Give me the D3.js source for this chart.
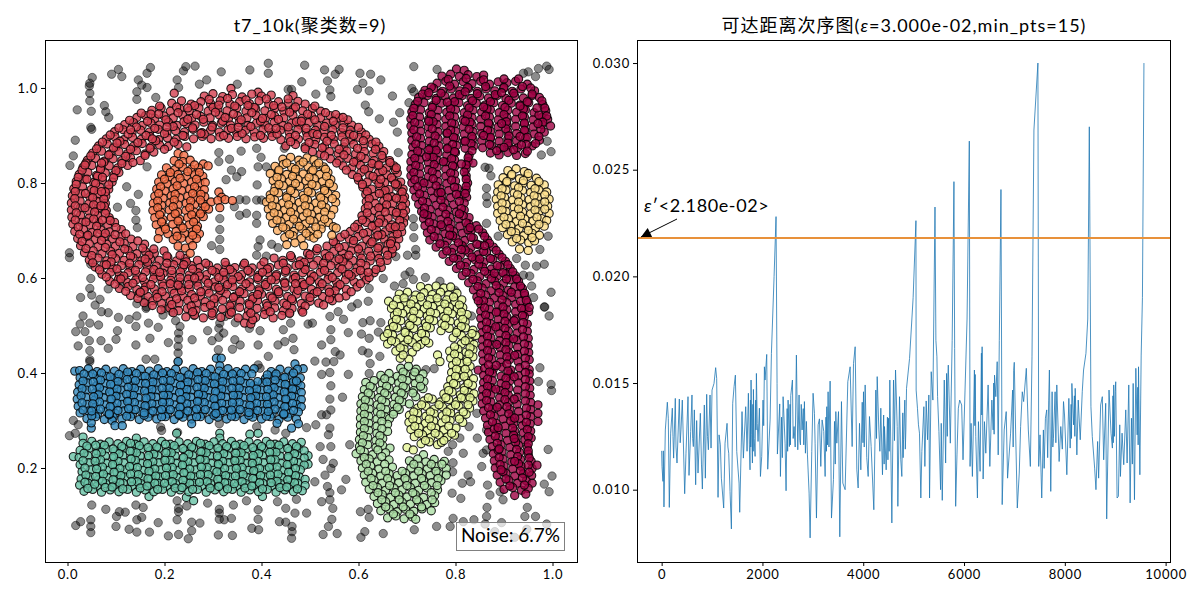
<!DOCTYPE html>
<html>
<head>
<meta charset="utf-8">
<script src="https://cdn.jsdelivr.net/npm/d3@7"></script>
<style>
  body { margin: 0; background: #fff; }
  text { font-family: Lato, "Noto Sans CJK SC", sans-serif; fill: #000; }
</style>
</head>
<body>
<div class="chart-holder"></div>
<script>
// all scatter arrays are flat x,y pairs in thousandths of the axis unit
let noisePts = [
51,1022,46,1010,45,1004,46,989,46,973,20,954,49,951,76,963,79,950,85,938,91,1029,105,1039,112,1024,171,1043,164,1031,146,1017,164,1001,143,992,143,976,182,980,153,1006,244,1045,263,1046,239,1036,226,1017,229,1001,272,1008,287,1017,317,1034,350,1008,376,1038,414,1052,414,1031,489,1048,462,997,483,1013,455,997,48,917,50,913,16,890,12,857,5,837,164,834,122,792,146,776,130,757,141,742,103,749,141,722,144,706,312,864,312,845,334,850,338,827,358,867,359,824,327,807,349,813,390,873,399,854,393,834,410,834,447,873,391,796,355,765,368,764,390,764,400,764,355,732,369,736,390,732,390,715,344,750,314,725,314,702,314,681,297,668,314,660,397,680,393,666,390,648,410,646,421,671,434,664,4,653,4,643,48,629,48,599,46,578,50,564,27,559,84,577,67,555,57,543,112,586,143,546,160,552,163,539,201,536,
530,1038,560,1039,552,1029,603,1031,625,1029,646,1017,536,1015,541,996,543,982,512,987,609,1010,598,997,622,994,670,983,614,964,621,950,685,948,643,935,672,928,680,907,704,969,710,999,714,992,714,1045,762,1039,940,1031,950,1034,971,1041,988,1046,993,1039,965,1024,989,888,977,859,997,866,682,864,861,833,869,831,873,815,864,789,864,771,865,757,864,715,888,688,991,688,974,660,926,641,944,627,967,625,983,629,940,606,953,604,997,570,957,583,961,559,983,539,713,725,714,708,714,685,718,660,701,648,718,648,706,613,696,606,713,597,677,645,674,583,692,588,651,599,622,578,620,551,598,546,586,539,738,601,768,593,799,574,
32,520,26,503,46,505,64,501,17,487,36,487,45,468,22,457,46,447,46,428,46,424,69,468,84,452,103,489,100,471,70,529,84,527,105,517,127,513,141,498,143,520,162,536,167,505,187,496,170,473,141,459,208,464,162,429,180,429,197,522,215,529,223,510,232,498,229,484,229,471,228,456,228,442,228,424,261,521,257,470,289,489,298,468,312,494,312,475,325,519,346,506,322,484,345,470,356,459,340,450,311,449,314,505,375,494,397,489,393,459,414,435,393,417,397,410,434,459,448,466,445,491,465,473,467,449,458,525,460,505,496,503,12,300,22,291,16,273,4,268,192,286,194,279,227,275,313,293,390,287,428,280,450,273,493,285,
50,122,79,113,141,122,156,117,107,108,119,107,101,98,27,87,17,79,48,91,48,77,48,64,100,77,143,91,153,96,187,85,226,131,229,115,229,108,246,120,226,91,256,86,273,84,256,68,249,51,229,60,208,57,127,71,143,65,169,65,289,126,313,113,313,105,313,92,342,122,338,94,323,91,311,59,340,58,369,131,393,112,393,92,380,73,394,70,433,129,450,115,437,87,450,86,463,77,463,66,462,52,469,105,472,134,493,105,
505,505,558,529,541,519,569,513,543,491,579,485,543,470,524,459,552,445,562,438,510,425,533,423,549,424,524,397,541,401,579,397,543,373,567,349,541,345,543,322,534,312,524,312,512,291,541,284,538,270,543,245,521,245,582,249,527,218,548,210,543,199,531,185,510,171,574,176,536,161,541,148,565,154,524,129,541,133,547,115,545,92,538,77,527,60,556,62,609,506,624,510,646,506,606,482,641,486,622,473,620,442,644,435,608,447,624,420,622,399,739,407,756,409,833,520,984,539,993,520,974,411,971,382,997,376,998,363,828,287,844,315,845,263,864,280,864,238,809,263,794,249,785,235,795,211,794,192,816,231,857,231,854,203,826,185,814,168,831,171,866,164,871,143,793,147,811,136,892,150,898,133,865,117,864,98,991,239,999,183,983,166,993,150,948,117,943,98,965,98,988,82,620,113,604,108,622,96,613,66,605,54,651,62,715,70,761,77,789,77,795,94,816,87,838,91,861,82,895,85,881,66,922,54,947,71]

let ringPts = [
337,999,220,989,393,991,465,984,
282,983,300,988,320,982,340,986,360,981,380,987,400,983,420,985,
215,968,235,973,255,966,275,971,295,967,315,973,335,966,355,971,375,967,395,973,415,966,435,971,455,968,475,972,490,966,
174,953,193,958,212,951,232,956,251,952,271,958,290,951,310,955,329,952,349,958,368,951,388,956,407,952,427,957,446,951,466,956,485,952,505,957,522,951,
143,938,161,942,180,936,199,941,218,937,237,943,256,936,275,940,294,937,313,943,332,936,351,941,370,937,389,942,408,936,427,941,446,937,465,942,484,936,503,941,522,937,541,942,560,937,
118,923,136,927,154,921,172,926,190,922,208,928,226,921,245,925,263,922,281,928,299,921,317,926,336,922,354,927,372,921,390,926,408,922,426,927,444,921,462,926,480,922,498,927,516,921,534,926,552,922,570,927,586,922,
97,908,115,912,133,906,151,911,169,907,187,913,205,906,223,910,241,907,259,913,277,906,295,911,313,907,331,912,349,906,367,911,385,907,403,912,421,906,439,911,457,907,475,912,493,906,511,911,529,907,547,912,565,906,583,911,606,907,
80,893,98,897,116,891,134,896,152,892,170,898,188,891,206,895,224,892,242,898,260,893,278,898,296,893,314,897,332,894,350,898,368,893,386,897,404,894,422,898,440,891,458,896,476,892,494,897,512,891,530,896,548,892,566,897,584,891,602,896,622,892,
64,878,82,882,100,876,118,881,136,877,154,883,172,876,190,880,208,877,228,881,246,876,450,878,470,881,490,876,510,881,530,877,550,882,570,876,590,881,610,877,628,882,642,877,
52,863,70,867,88,861,106,866,124,862,142,868,160,861,178,865,505,866,522,861,540,866,558,862,576,867,594,861,612,866,630,862,652,866,
41,848,58,852,76,846,94,851,112,847,130,853,150,847,542,851,560,847,578,852,596,846,614,851,632,847,650,852,664,847,
32,833,50,837,68,831,86,836,104,832,124,837,568,836,586,832,604,837,622,831,640,836,658,832,673,836,
24,818,42,822,60,816,78,821,96,817,106,822,587,818,605,822,623,816,641,821,659,817,680,821,
18,803,36,807,54,801,72,806,92,802,600,806,618,802,636,807,654,801,672,806,687,802,
13,788,31,792,49,786,67,791,85,787,609,791,627,787,645,792,663,786,681,791,692,787,
10,773,28,777,46,771,64,776,79,772,615,776,633,772,651,777,669,771,687,776,695,771,
8,758,26,762,44,756,62,761,78,757,616,761,634,757,652,762,670,756,688,761,697,757,
8,743,26,747,44,741,62,746,80,742,614,746,632,742,650,747,668,741,686,746,697,742,
9,728,27,732,45,726,63,731,86,727,607,731,625,727,643,732,661,726,679,731,695,727,
11,713,29,717,47,711,65,716,83,712,97,717,598,713,616,717,634,711,652,716,670,712,693,716,
15,698,33,702,51,696,69,701,87,697,111,702,583,698,601,702,619,696,637,701,655,697,673,702,689,697,
21,683,39,687,57,681,75,686,93,682,111,687,131,682,563,686,581,682,599,687,617,681,635,686,653,682,671,687,683,682,
27,668,45,672,63,666,81,671,99,667,117,673,135,666,159,671,535,667,553,672,571,666,589,671,607,667,625,672,643,666,661,671,677,667,
35,653,53,657,71,651,89,656,107,652,125,658,143,651,161,655,179,652,199,657,495,652,513,657,531,651,549,656,567,652,585,657,603,651,621,656,639,652,657,657,669,652,
45,638,63,642,81,636,99,641,117,637,135,643,153,636,171,640,189,637,207,643,225,636,243,641,268,637,426,642,444,637,462,643,480,636,498,641,516,637,534,642,552,636,570,641,588,637,606,642,624,636,642,641,659,637,
57,623,75,627,93,621,111,626,129,622,147,628,165,621,183,625,201,622,219,628,237,621,255,626,273,622,291,627,309,621,327,626,345,622,363,627,381,621,399,626,417,622,435,627,453,621,471,626,489,622,507,627,525,621,543,626,561,622,579,627,597,621,615,626,647,622,
71,608,89,612,107,606,125,611,143,607,161,613,179,606,197,610,215,607,233,613,251,606,269,611,287,607,305,612,323,606,341,611,359,607,377,612,395,606,413,611,431,607,449,612,467,606,485,611,503,607,521,612,539,606,557,611,575,607,593,612,611,606,632,611,
87,593,105,597,123,591,141,596,159,592,177,598,195,591,213,595,231,592,249,598,267,591,285,596,303,592,321,597,339,591,357,596,375,592,393,597,411,591,429,596,447,592,465,597,483,591,501,596,519,592,537,597,555,591,573,596,591,592,616,596,
107,578,125,582,143,576,161,581,179,577,197,583,215,576,233,580,251,577,269,583,287,576,305,581,323,577,341,582,359,576,377,581,395,577,413,582,431,576,449,581,467,577,485,582,503,576,521,581,539,577,557,582,575,576,597,581,
130,563,148,567,166,561,184,566,202,562,220,568,238,561,256,565,274,562,292,568,310,561,328,566,346,562,364,567,382,561,400,566,418,562,436,567,454,561,472,566,490,562,508,567,526,561,544,566,574,562,
158,548,176,552,194,546,212,551,230,547,248,553,266,546,284,550,302,547,320,553,338,546,356,551,374,547,392,552,410,546,428,551,446,547,464,552,482,546,500,551,518,547,546,552,
193,533,211,537,229,531,247,536,265,532,283,538,301,531,319,535,337,532,355,538,373,531,391,536,409,532,427,537,445,531,463,536,483,532,
244,518,262,522,280,516,298,521,316,517,334,523,352,516,370,520,388,517,406,523,424,516,442,521,365,505,378,503,382,512,
292,976,330,978,368,975,410,977,455,977,
190,962,225,960,262,963,300,959,345,962,385,959,425,963,470,960,510,962,
152,947,188,945,228,948,266,944,305,949,342,945,380,948,420,944,458,949,495,945,532,948,553,944,
128,932,165,930,203,933,240,929,280,934,320,930,358,933,398,930,435,934,472,929,510,933,548,930,578,933,
106,916,142,918,180,915,218,919,258,916,298,918,338,915,378,919,415,916,455,918,492,915,530,919,568,916,600,917,
88,901,125,903,162,900,200,904,238,900,282,903,322,900,360,904,398,900,432,903,470,900,506,904,544,900,582,903,615,901,
72,886,108,888,145,885,182,889,220,886,460,887,498,885,535,888,572,886,610,889,636,886,
60,872,95,874,130,871,170,873,200,871,490,872,525,874,560,871,598,873,635,871,
48,857,85,859,120,856,160,858,530,857,570,859,605,856,648,858,
38,842,75,844,112,841,135,843,555,842,590,844,628,841,665,843,
30,827,68,829,100,826,575,827,612,829,650,826,676,828,
22,812,62,814,95,811,598,812,630,814,668,811,
18,797,58,799,85,796,608,797,642,799,680,796,
16,782,55,784,78,781,618,782,655,784,690,781,
15,767,52,769,75,766,622,767,660,769,692,766,
16,752,54,754,76,751,620,752,658,754,690,751,
18,737,56,739,78,736,618,737,655,739,692,736,
16,722,54,724,88,721,608,722,645,724,685,721,
22,707,60,709,100,706,592,707,628,709,665,706,688,708,
25,692,62,694,98,691,120,693,572,692,610,694,648,691,680,693,
30,677,70,679,108,676,145,678,548,677,590,679,628,676,668,678,
38,662,78,664,118,661,155,663,178,661,515,662,560,664,600,661,640,663,670,661,
50,647,92,649,130,646,168,648,205,646,232,648,460,647,500,649,540,646,580,648,625,646,660,648,
52,632,90,634,128,631,165,633,205,631,245,634,285,631,325,633,365,631,405,634,445,631,488,633,528,631,568,634,605,631,645,633,
66,617,102,619,140,616,178,618,215,616,258,619,298,616,335,618,372,616,412,619,450,616,490,618,530,616,566,619,604,616,636,618,
80,602,116,604,155,601,192,603,232,601,272,604,312,601,352,603,392,601,430,604,470,601,508,603,546,601,585,604,622,601,
98,587,135,589,172,586,212,588,250,586,290,589,330,586,368,588,408,586,448,589,488,586,525,588,562,586,604,588,
120,572,158,574,195,571,235,573,275,571,315,574,355,571,395,573,435,571,475,574,515,571,552,573,585,571,
145,557,185,559,225,556,262,558,302,556,342,559,382,556,422,558,462,556,500,559,540,556,560,558,
175,542,215,544,255,541,295,543,335,541,375,544,412,541,452,543,490,541,528,543,
218,527,258,529,298,526,338,528,378,526,418,529,458,526,485,528,
36,838,40,808,37,778,36,748,38,718,42,690,70,842,72,812,70,782,69,752,72,722,78,694,
642,838,678,832,646,808,676,798,643,778,678,768,642,748,678,738,642,716,676,708,640,690,666,672,
248,958,312,964,372,963,442,960,172,945,248,934,325,938,402,936,482,930,568,938,
130,912,205,918,275,904,352,917,430,915,515,902,590,900,102,884,175,893,
80,628,160,640,240,628,322,612,402,612,478,628,560,640,620,612,
110,598,190,612,262,600,340,596,420,596,500,594,580,608,150,570,228,585,312,580,392,565,470,588,540,570]

let orangePts = [
228,862,240,858,
220,847,238,845,253,848,280,840,290,836,
204,832,221,828,238,833,255,829,270,832,
194,817,211,813,228,818,245,814,262,817,279,814,
188,802,205,798,222,803,239,799,256,802,273,799,284,801,
184,787,201,783,218,788,235,784,252,787,269,784,282,786,
180,772,197,768,214,773,231,769,248,772,265,769,283,771,312,781,318,770,
177,757,194,753,211,758,228,754,245,757,262,754,279,756,296,760,310,763,325,765,340,763,
176,742,193,738,210,743,227,739,244,742,261,739,278,741,291,745,314,748,
180,727,197,723,214,728,231,724,248,727,265,724,280,729,
183,712,200,708,217,713,234,709,251,712,268,709,
190,697,207,693,224,698,241,694,258,697,272,693,
187,683,218,681,235,684,252,680,266,683,
228,667,243,663,258,668,253,652,
230,840,262,838,212,822,248,824,272,822,200,808,232,810,266,808,192,792,226,794,262,792,188,778,222,776,258,778,275,776,
186,762,220,764,254,762,274,764,186,748,218,750,252,748,284,750,190,733,222,735,256,733,274,735,194,718,228,720,260,718,202,703,238,705,266,703,226,688,258,690]

let lightOrangePts = [
444,850,460,854,477,848,494,853,508,849,
428,835,445,839,462,833,479,838,496,834,513,838,528,834,
418,820,435,824,452,818,469,823,486,819,503,824,520,818,537,822,
424,805,441,809,458,803,475,808,492,804,509,809,526,803,543,807,
428,790,445,794,462,788,479,793,496,789,513,794,530,788,548,792,
418,775,435,779,452,773,469,778,486,774,503,779,520,773,537,778,553,774,
410,760,427,764,444,758,461,763,478,759,495,764,512,758,529,763,553,759,
414,745,431,749,448,743,465,748,482,744,499,749,516,743,533,748,549,744,
418,730,435,734,452,728,469,733,486,729,503,734,520,728,543,732,
423,715,440,719,457,713,474,718,491,714,508,719,525,713,538,717,
433,700,450,704,467,698,484,703,501,699,523,703,
448,685,465,689,482,683,499,688,508,684,548,708,
452,670,469,674,487,668,
554,705,545,690,
452,842,486,844,518,842,436,827,470,829,506,827,532,829,432,812,464,814,498,812,534,814,436,797,470,799,504,797,540,799,
426,782,460,784,496,782,530,784,418,767,452,769,488,767,522,769,546,767,422,752,456,754,490,752,524,754,426,737,460,739,494,737,530,739,432,722,466,724,500,722,530,724,
444,707,478,709,512,707,458,692,492,694,516,692]

let yellowPts = [
908,826,925,830,942,824,
898,811,915,815,932,809,949,814,967,810,
888,796,905,800,922,794,939,799,956,795,973,800,983,796,
887,781,904,785,921,779,938,784,955,780,972,785,988,781,
884,766,901,770,918,764,935,769,952,765,969,770,993,766,
887,751,904,755,921,749,938,754,955,750,972,755,990,751,
887,736,904,740,921,734,938,739,955,735,972,740,993,736,
892,721,909,725,926,719,943,724,960,720,977,725,988,721,
897,706,914,710,931,704,948,709,965,705,983,709,
907,691,924,695,941,689,958,694,973,690,
917,676,934,680,951,674,963,678,
932,661,950,658,
916,818,950,820,906,803,940,805,972,803,896,788,930,790,964,788,894,773,928,775,962,773,984,775,
896,758,930,760,964,758,984,760,896,743,930,745,964,743,984,745,900,728,934,730,968,728,904,713,938,715,972,713,915,698,950,700,926,683,958,685]

let burgundyPts = [
802,1040,818,1037,
772,1025,790,1029,808,1024,826,1028,844,1024,858,1027,
762,1010,780,1014,798,1008,816,1013,834,1009,852,1014,870,1008,888,1013,906,1011,924,1014,948,1008,
737,995,755,999,773,993,791,998,809,994,827,999,845,993,863,998,881,994,899,999,917,993,935,998,963,994,
724,980,742,984,760,978,778,983,796,979,814,984,832,978,850,983,868,979,886,984,904,978,922,983,940,979,958,984,973,980,
717,965,735,969,753,963,771,968,789,964,807,969,825,963,843,968,861,964,879,969,897,963,915,968,933,964,951,969,980,965,
710,950,728,954,746,948,764,953,782,949,800,954,818,948,836,953,854,949,872,954,890,948,908,953,926,949,944,954,962,948,986,952,
708,935,726,939,744,933,762,938,780,934,798,939,816,933,834,938,852,934,870,939,888,933,906,938,924,934,942,939,960,933,978,938,990,934,
708,920,726,924,744,918,762,923,780,919,798,924,816,918,834,923,852,919,870,924,888,918,906,923,924,919,942,924,960,918,978,923,996,920,
710,905,728,909,746,903,764,908,782,904,800,909,818,903,836,908,854,904,872,909,890,903,908,908,926,904,944,909,962,903,983,907,
710,890,728,894,746,888,764,893,782,889,800,894,818,888,836,893,854,889,872,894,890,888,908,893,926,889,944,894,973,890,
712,875,730,879,748,873,766,878,784,874,802,879,820,873,838,878,856,874,874,879,892,873,910,878,928,874,958,878,
710,860,728,864,746,858,764,863,782,859,800,864,828,858,872,863,890,859,908,864,926,858,944,862,
708,845,726,849,744,843,762,848,780,844,798,849,826,845,836,842,
708,830,726,834,744,828,762,833,780,829,798,834,822,830,
708,815,726,819,744,813,762,818,780,814,798,819,822,815,
710,800,728,804,746,798,764,803,782,799,800,804,825,800,
714,785,732,789,750,783,768,788,786,784,804,789,822,785,
718,770,736,774,754,768,772,773,790,769,808,774,823,770,
724,755,742,759,760,753,778,758,796,754,818,758,
730,740,748,744,766,738,784,743,802,739,818,743,
734,725,752,729,770,723,788,728,806,724,828,727,
737,710,755,714,773,708,791,713,809,709,827,714,843,710,
742,695,760,699,778,693,796,698,814,694,832,699,856,695,
747,680,765,684,783,678,801,683,819,679,837,684,866,680,
760,665,778,669,796,663,814,668,832,664,850,669,878,665,
774,650,792,654,810,648,828,653,846,649,864,654,890,650,
787,635,805,639,823,633,841,638,859,634,877,639,903,635,
802,620,820,624,838,618,856,623,874,619,892,624,913,620,
814,605,832,609,850,603,868,608,886,604,904,609,923,605,
827,590,845,594,863,588,881,593,899,589,930,593,
837,575,855,579,873,573,891,578,909,574,938,578,
844,560,862,564,880,558,898,563,916,559,943,563,
852,545,870,549,888,543,906,548,924,544,948,548,
852,530,870,534,888,528,906,533,924,529,942,534,951,529,
852,515,870,519,888,513,906,518,924,514,942,519,
854,500,872,504,890,498,908,503,926,499,948,503,
855,485,873,489,891,483,909,488,927,484,948,488,
855,470,873,474,891,468,909,473,927,469,950,473,
856,455,874,459,892,453,910,458,928,454,950,458,
856,440,874,444,892,438,910,443,928,439,951,443,
857,425,875,429,893,423,911,428,929,424,952,428,
847,406,860,410,878,408,896,412,914,406,932,411,952,407,
858,395,876,399,894,393,912,398,930,394,952,398,
858,380,876,384,894,378,912,383,930,379,953,383,
856,365,874,369,892,363,910,368,928,364,953,368,
855,350,873,354,891,348,909,353,927,349,954,353,970,333,
855,335,873,339,891,333,909,338,927,334,955,338,
858,320,876,324,894,318,912,323,930,319,955,323,970,315,
862,305,880,309,898,303,916,308,934,304,955,308,970,298,
866,290,884,294,902,288,920,293,938,289,954,293,
868,275,886,279,904,273,922,278,940,274,955,278,
871,260,889,264,907,258,925,263,943,259,956,263,
876,245,894,249,912,243,930,248,948,244,
878,230,896,234,914,228,932,233,950,229,
880,215,898,219,916,213,934,218,956,214,
882,200,900,204,918,198,936,203,958,199,968,206,
886,185,904,189,922,183,940,188,957,184,
892,170,910,174,928,168,946,173,958,168,
900,155,918,159,936,153,950,157,
922,142,945,145,
785,1018,822,1020,858,1017,900,1019,930,1019,750,1002,788,1004,825,1001,862,1003,900,1001,938,1003,955,1000,
732,987,770,989,808,986,845,988,882,986,920,989,958,987,722,972,760,974,798,971,835,973,872,971,910,974,948,971,978,973,
714,957,752,959,790,956,828,958,865,956,902,959,940,956,984,958,712,942,750,944,788,941,825,943,862,941,900,944,938,941,972,943,988,941,
716,927,754,929,792,926,830,928,868,926,905,929,942,926,980,928,714,912,752,914,790,911,828,913,866,911,904,914,942,911,976,913,
720,897,758,899,796,896,834,898,872,896,910,899,948,896,972,898,718,882,756,884,794,881,832,883,870,881,908,884,946,881,965,883,
722,867,760,869,798,866,834,868,885,868,920,870,948,867,716,852,754,854,792,851,826,853,718,837,756,839,794,836,822,838,
714,822,752,824,790,821,818,823,716,807,754,809,792,806,822,808,722,792,760,794,798,791,822,793,726,777,764,779,802,776,820,778,
732,762,770,764,808,761,736,747,774,749,812,746,742,732,780,734,816,731,746,717,784,719,822,716,750,702,788,704,826,701,848,703,
756,687,794,689,832,686,860,688,768,672,806,674,844,671,870,673,782,657,820,659,858,656,884,658,796,642,834,644,872,641,896,643,
810,627,848,629,886,626,908,628,822,612,860,614,898,611,918,613,836,597,874,599,912,596,926,598,846,582,884,584,922,581,934,583,
852,567,890,569,928,566,942,568,858,552,896,554,934,551,946,553,860,537,898,539,936,536,952,538,862,522,900,524,938,521,
864,507,902,509,940,506,864,492,902,494,938,491,866,477,904,479,940,476,866,462,904,464,942,461,866,447,904,449,942,446,
868,432,906,434,944,431,868,417,906,419,944,416,870,402,908,404,944,401,866,387,904,389,944,386,866,372,904,374,944,371,
864,357,902,359,944,356,864,342,902,344,944,341,868,327,906,329,946,326,872,312,910,314,946,311,876,297,914,299,946,296,
880,282,918,284,948,281,882,267,920,269,950,266,886,252,924,254,950,251,888,237,926,239,950,236,890,222,928,224,952,221,
892,207,930,209,950,206,898,192,934,194,952,191,904,177,938,179,912,162,942,164,
884,528,921,510,883,497,920,472,885,460,922,437,884,416,921,392,883,366,921,345,886,328,922,305,888,285,921,262,890,240,922,214,894,196,
847,552,915,570,880,610,850,640,905,598,812,660,860,668,788,690,830,706,770,712,808,735,735,735,770,780,735,800,775,845,740,855,812,840,
745,990,783,970,820,992,858,960,895,990,933,962,968,958,745,930,783,905,820,930,858,900,895,925,933,898,970,925,745,870,783,872,820,888,900,875,936,880]

let palePts = [
728,582,744,578,760,583,776,579,790,581,
684,566,701,570,718,564,735,569,752,565,769,570,786,564,803,568,
662,551,680,555,697,549,714,554,731,550,748,555,765,549,782,554,799,550,813,554,
668,536,685,540,702,534,719,539,736,535,753,540,770,534,787,539,804,535,815,538,
674,521,691,525,708,519,725,524,742,520,759,525,776,519,793,524,810,520,824,523,
670,506,687,510,704,504,721,509,738,505,755,510,772,504,789,509,806,505,820,508,
663,491,680,495,697,489,714,494,731,490,748,495,770,489,787,494,804,490,821,495,836,490,
653,476,670,480,687,474,704,479,721,475,738,480,795,474,812,479,829,475,842,479,
660,461,677,465,694,459,711,464,728,460,745,463,812,461,829,465,838,460,
677,446,694,450,711,444,788,446,805,450,822,444,836,449,
686,431,704,429,763,438,768,424,790,431,807,435,824,429,836,434,
794,416,811,420,830,414,
792,401,809,405,826,399,
790,386,807,390,824,384,837,388,
784,371,801,375,818,369,835,374,
776,356,793,360,810,354,827,359,838,356,
735,341,752,345,769,339,786,344,803,340,820,345,836,341,
722,326,739,330,756,324,773,329,790,325,807,330,829,326,
705,311,722,315,739,309,756,314,773,310,790,315,807,309,822,313,
704,296,721,300,738,294,755,299,772,295,789,300,815,296,
708,281,725,285,742,279,759,284,776,280,801,284,
715,266,732,270,749,264,766,269,783,265,798,269,
729,251,746,255,763,249,771,254,700,243,713,238,
694,558,728,560,762,558,796,560,672,543,708,545,742,543,778,545,808,543,680,528,714,530,748,528,784,530,812,528,
678,513,712,515,746,513,780,515,815,513,672,498,706,500,740,498,778,500,812,498,660,483,696,485,730,483,802,485,834,483,
668,468,702,470,738,468,820,468,686,453,720,455,798,455,830,453,692,438,798,440,828,440,802,424,824,424,802,408,820,408,
800,393,818,393,796,378,826,378,786,363,818,363,744,348,780,348,812,348,830,348,730,333,766,333,800,333,826,333,
714,318,748,318,782,318,816,318,712,303,746,303,780,303,808,303,716,288,750,288,786,288,724,273,758,273,792,273,738,258,776,258]

let greenPts = [
687,410,703,414,719,408,
646,395,663,399,680,393,697,398,714,394,733,398,
615,380,632,384,649,378,666,383,683,379,700,384,717,378,735,382,
612,365,629,369,646,363,663,368,680,364,697,369,714,363,733,367,
608,350,625,354,642,348,659,353,676,349,693,354,718,350,
605,335,622,339,639,333,656,338,673,334,690,339,705,335,
605,320,622,324,639,318,656,323,673,319,684,323,
604,305,621,309,638,303,655,308,664,304,
604,290,621,294,638,288,660,292,
604,275,621,279,638,273,660,277,
602,260,619,264,636,258,650,262,
602,245,619,249,636,243,650,247,665,242,
595,230,612,234,629,228,656,232,734,228,
605,215,622,219,639,213,663,217,705,215,722,219,739,213,756,218,777,214,
608,200,625,204,642,198,670,202,708,200,725,204,742,198,759,203,781,199,
612,185,629,189,646,183,663,188,680,184,697,189,714,183,731,188,748,184,765,189,781,185,
615,170,632,174,649,168,666,173,683,169,700,174,717,168,734,173,751,169,770,173,
622,155,639,159,656,153,673,158,690,154,707,159,724,153,741,158,763,154,
632,140,649,144,666,138,683,143,700,139,717,144,734,138,757,142,
639,125,656,129,673,123,690,128,707,124,724,129,741,123,757,127,
646,110,663,114,680,108,697,113,714,109,731,114,750,110,
660,95,677,99,694,93,711,97,718,92,
692,402,716,402,654,388,690,388,726,388,624,372,658,372,692,372,728,372,620,358,654,358,688,358,712,358,614,343,648,343,684,343,
612,328,646,328,680,328,612,313,646,313,672,313,612,298,648,298,612,283,648,283,610,268,644,268,608,253,644,253,604,238,640,238,
612,222,648,224,714,208,750,208,772,208,616,208,654,208,620,193,656,193,690,193,724,193,760,193,626,178,660,178,696,178,730,178,764,178,
630,163,664,163,700,163,736,163,762,163,640,148,676,148,712,148,750,148,648,133,684,133,720,133,752,133,656,118,692,118,730,118,672,103,706,103]

let bluePts = [
15,404,307,431,317,431,314,415,228,424,469,419,486,409,
25,405,43,409,61,403,79,408,97,404,115,409,133,403,151,408,169,404,187,409,205,403,223,408,241,404,259,409,277,403,295,408,313,404,331,409,349,403,367,408,385,409,420,403,438,408,456,404,474,408,
26,390,44,394,62,388,80,393,98,389,116,394,134,388,152,393,170,389,188,394,206,388,224,393,242,389,260,394,278,388,296,393,314,389,332,394,350,388,368,393,380,398,408,388,426,393,444,389,462,394,480,390,
24,375,42,379,60,373,78,378,96,374,114,379,132,373,150,378,168,374,186,379,204,373,222,378,240,374,258,379,276,373,294,378,312,374,330,379,348,373,366,378,384,374,402,379,420,373,438,378,456,374,474,379,481,373,
21,360,39,364,57,358,75,363,93,359,111,364,129,358,147,363,165,359,183,364,201,358,219,363,237,359,255,364,273,358,291,363,309,359,327,364,345,358,363,363,381,359,399,364,417,358,435,363,453,359,471,364,482,359,
20,345,38,349,56,343,74,348,92,344,110,349,128,343,146,348,164,344,182,349,200,343,218,348,236,344,254,349,272,343,290,348,308,344,326,349,344,343,362,348,380,344,398,349,416,343,434,348,452,344,470,349,482,344,
22,330,40,334,58,328,76,333,94,329,112,334,130,328,148,333,166,329,184,334,202,328,220,333,238,329,256,334,274,328,292,333,310,329,328,334,346,328,364,333,382,329,400,334,418,328,436,333,454,329,472,334,482,329,
26,316,44,320,62,314,80,319,98,315,116,320,134,314,152,319,170,315,188,320,206,314,224,319,242,315,260,320,278,314,296,319,314,315,332,320,350,314,368,319,386,315,404,320,422,314,440,319,458,315,476,318,
40,304,58,308,76,302,94,307,112,303,130,308,148,302,166,307,184,303,202,308,220,302,238,307,256,303,274,308,292,302,310,307,328,303,346,308,364,302,382,307,400,303,418,308,436,302,454,307,472,303,
49,284,49,295,92,300,98,289,113,289,256,293,432,294,462,284,476,293,
34,398,70,400,106,397,142,399,178,396,214,399,250,396,286,399,322,397,358,399,430,398,466,400,
32,383,68,385,104,382,140,384,176,381,212,384,248,381,284,384,320,382,356,384,392,382,428,385,466,382,
30,367,66,369,102,366,138,368,174,365,210,368,246,365,282,368,318,366,354,368,390,366,426,369,464,366,
28,352,64,354,100,351,136,353,172,350,208,353,244,350,280,353,316,351,352,353,388,351,424,354,462,351,
30,337,66,339,102,336,138,338,174,335,210,338,246,335,282,338,318,336,354,338,390,336,426,339,464,336,
32,322,68,324,104,321,140,323,176,320,212,323,248,320,284,323,320,321,356,323,392,321,428,324,466,321,
50,310,86,312,122,309,158,311,194,308,230,311,266,308,302,311,338,309,374,311,410,309,446,312,
52,398,88,392,124,402,160,393,196,400,232,391,268,401,304,392,340,398,412,396,448,391,
53,381,89,376,123,386,161,378,197,384,233,374,269,386,303,377,341,383,377,378,411,381,449,376,472,383,
51,366,87,360,125,370,159,362,195,368,231,359,267,370,305,361,339,368,375,363,413,365,447,360,
54,350,90,345,122,355,162,347,198,353,234,344,270,355,302,346,342,353,378,348,410,350,450,345,
52,335,88,329,124,340,160,331,196,338,232,328,268,340,304,330,340,337,376,332,412,334,448,329,
50,320,86,314,126,325,158,316,194,323,230,313,266,324,306,315,338,322,374,317,414,319,446,314]

let tealPts = [
32,265,142,263,225,273,314,273,314,263,376,271,393,273,12,224,496,226,496,208,168,140,245,138,260,131,402,140,
32,252,50,256,68,250,86,255,104,251,122,256,140,250,158,255,176,251,194,256,212,250,230,255,248,251,266,256,284,250,302,255,320,251,338,256,356,250,374,255,392,251,410,256,428,250,446,255,464,251,482,254,
26,237,44,241,62,235,80,240,98,236,116,241,134,235,152,240,170,236,188,241,206,235,224,240,242,236,260,241,278,235,296,240,314,236,332,241,350,235,368,240,386,236,404,241,422,235,440,240,458,236,476,241,488,236,
24,222,42,226,60,220,78,225,96,221,114,226,132,220,150,225,168,221,186,226,204,220,222,225,240,221,258,226,276,220,294,225,312,221,330,226,348,220,366,225,384,221,402,226,420,220,438,225,456,221,474,226,488,221,
26,207,44,211,62,205,80,210,98,206,116,211,134,205,152,210,170,206,188,211,206,205,224,210,242,206,260,211,278,205,296,210,314,206,332,211,350,205,368,210,386,206,404,211,422,205,440,210,458,206,476,211,488,206,
30,192,48,196,66,190,84,195,102,191,120,196,138,190,156,195,174,191,192,196,210,190,228,195,246,191,264,196,282,190,300,195,318,191,336,196,354,190,372,195,390,191,408,196,426,190,444,195,462,191,480,196,
28,177,46,181,64,175,82,180,100,176,118,181,136,175,154,180,172,176,190,181,208,175,226,180,244,176,262,181,280,175,298,180,316,176,334,181,352,175,370,180,388,176,406,181,424,175,442,180,460,176,478,181,490,176,
25,164,43,168,61,162,79,167,97,163,115,168,133,162,151,167,169,163,187,168,205,162,223,167,241,163,259,168,277,162,295,167,313,163,331,168,349,162,367,167,385,163,403,168,421,162,439,167,457,163,475,168,490,163,
34,151,52,155,70,149,88,154,106,150,124,155,142,149,160,154,178,150,196,155,214,149,232,154,250,150,268,155,286,149,304,154,322,150,340,155,358,149,376,154,394,150,412,155,430,149,448,154,466,150,484,152,
40,246,76,248,112,245,148,247,184,244,220,247,256,244,292,247,328,245,364,247,400,245,436,248,472,245,
34,231,70,233,106,230,142,232,178,229,214,232,250,229,286,232,322,230,358,232,394,230,430,233,468,230,
32,215,68,217,104,214,140,216,176,213,212,216,248,213,284,216,320,214,356,216,392,214,428,217,466,214,
36,200,72,202,108,199,144,201,180,198,216,201,252,198,288,201,324,199,360,201,396,199,432,202,470,199,
38,185,74,187,110,184,146,186,182,183,218,186,254,183,290,186,326,184,362,186,398,184,434,187,470,184,
36,170,72,172,108,169,144,171,180,168,216,171,252,168,288,171,324,169,360,171,396,169,432,172,468,169,
42,157,78,159,114,156,150,158,186,155,222,158,258,155,294,158,330,156,366,158,402,156,438,159,474,156,
58,248,94,240,130,252,166,243,202,250,238,241,274,252,310,242,346,248,382,243,418,250,454,241,
59,230,95,224,129,235,167,226,203,232,239,222,275,234,309,225,347,231,383,226,417,233,455,224,
57,214,93,207,131,219,165,209,201,216,237,206,273,218,311,208,345,215,381,210,419,217,453,207,
60,198,96,191,128,203,168,193,204,200,240,190,276,202,308,192,348,199,384,194,416,201,456,191,
58,182,94,175,130,187,166,177,202,184,238,174,274,186,310,176,346,183,382,178,418,185,454,175,
56,166,92,160,132,171,164,162,200,168,236,159,272,170,312,161,344,167,380,162,420,169,452,160]

// x index, then reachability distance in units of 1e-5
let reachPts = [
0,1182,7,1109,26,1039,33,1182,46,919,73,1280,113,1410,132,1335,152,917,179,1265,212,1382,225,1250,238,1148,271,1428,285,1200,305,1125,351,1425,368,1220,384,1280,410,1420,457,981,483,1171,523,1436,543,1067,576,1273,602,1444,615,1240,629,1202,649,1374,675,1023,695,1324,722,1078,768,1358,790,1120,808,1003,847,1397,867,1054,894,1447,910,1250,927,1187,960,1444,980,1195,1000,1467,1039,1498,1072,1572,1092,1522,1119,964,1139,1257,1165,1210,1185,1054,1231,914,1258,1218,1298,1311,1315,1200,1331,1171,1357,992,1384,816,1410,1405,1437,1483,1463,1537,1490,1179,1536,1031,1549,894,1595,1366,1622,1148,1668,1389,1695,1180,1721,1452,1740,1210,1754,1093,1762,1420,1768,1200,1774,1514,1788,1260,1801,1125,1810,1400,1816,1180,1821,1470,1836,1240,1854,1156,1866,1420,1872,1280,1880,1545,1897,1310,1913,1226,1940,1382,1960,1062,1986,1156,2012,1420,2025,1300,2039,1576,2052,1514,2085,1634,2105,1096,2152,1327,2178,1639,2231,2000,2270,2280,2290,1498,2297,1167,
2343,1402,2357,1062,2380,1340,2395,1150,2410,1436,2449,1218,2469,995,2490,1380,2500,1180,2509,1420,2535,1202,2548,1400,2555,1210,2562,1441,2595,1514,2610,1240,2628,1296,2650,1200,2674,1631,2701,1187,2727,1444,2741,1230,2754,1210,2770,1400,2787,1280,2810,1380,2820,1210,2833,1413,2853,1171,2872,1320,2893,1163,2926,984,2946,774,2979,1179,3005,1452,3032,1358,3045,1218,3072,867,3105,1304,3131,1332,3158,1109,3184,1327,3217,1273,3244,1062,3260,1340,3270,1180,3277,1389,3290,1210,3303,1459,3320,1200,3343,1509,3370,867,3409,1047,3430,1320,3445,1120,3456,1366,3476,1218,3509,1366,3535,779,3568,1413,3595,1031,3641,1000,3694,1506,3740,1576,3780,1202,3807,1592,3840,1670,3873,1093,3899,1008,3926,1311,3952,1093,3980,1410,3995,1220,4005,1459,4020,1200,4038,1491,4070,1150,4098,1062,4124,1343,4157,1202,4210,906,4250,1467,4264,1240,4277,1530,4310,1280,4330,1180,4349,1382,4382,1070,4405,1350,4415,1120,4422,1296,4455,1093,4480,1340,4490,1140,4502,1335,4515,1180,4528,1514,4568,844,4601,1514,4620,1230,4641,1561,4674,1296,4687,922,4720,1436,4745,1140,4766,1062,4785,1360,4792,1150,4800,1234,4825,1420,4835,1190,4846,1280,4859,1475,4919,1615,4990,1900,5046,2261,
5050,1467,5076,1382,5096,1304,5116,1265,5143,961,5163,1179,5203,1389,5223,1109,5249,1416,5276,1234,5302,1444,5316,961,5349,1553,5382,1420,5424,2325,5442,1700,5462,1623,5475,1436,5502,1273,5535,1000,5548,1311,5568,950,5608,1514,5635,1125,5654,1545,5668,1250,5675,1500,5688,1584,5728,1218,5765,1700,5800,2444,5814,1662,5834,922,5860,1163,5887,1382,5914,1420,5953,1397,5980,1140,6020,1467,6060,1800,6105,2634,6120,1109,6140,1311,6166,1062,6206,1561,6215,1300,6222,1540,6233,1249,6266,961,6286,1319,6319,1086,6345,1640,6352,1350,6359,1670,6379,1050,6405,1319,6432,1171,6478,1491,6512,1109,6552,1420,6578,1280,6590,1500,6597,1260,6605,1537,6631,1436,6658,1600,6678,1163,6700,1700,6733,2407,6757,930,6797,1280,6837,1366,6864,1054,6924,1265,6964,1467,6975,1200,6985,1560,6997,1597,7023,1280,7057,914,7096,1078,7123,1296,7156,1459,7183,1413,7236,1569,7276,1280,7316,1109,7349,1623,7387,2686,7466,3000,7482,1109,
7508,1257,7542,961,7575,1280,7590,1100,7615,1335,7641,1374,7660,1150,7680,1420,7694,1561,7721,992,7748,1459,7762,1200,7774,1241,7807,1459,7822,1220,7841,1491,7887,1132,7920,1296,7950,1190,7974,1413,7994,1350,8040,1070,8080,1428,8106,1195,8125,1400,8132,1240,8140,1498,8173,1304,8190,1440,8198,1250,8206,1475,8239,1163,8266,1420,8306,1234,8346,1459,8372,1561,8419,1639,8455,1800,8486,2701,8518,1389,8545,1249,8592,1101,8618,1000,8651,1226,8671,1054,8711,1397,8744,1436,8771,1140,8811,1405,8831,863,8877,1467,8917,1265,8944,1195,8955,1440,8962,1220,8970,1491,8985,1250,9000,1460,9010,1506,9037,961,9063,969,9090,1304,9103,1062,9136,1265,9169,1117,9209,1374,9236,1125,9269,1491,9296,938,9322,1335,9340,1120,9356,1498,9382,953,9409,1569,9435,1257,9448,1480,9455,1210,9462,1576,9489,1070,9515,1631,9540,1900,9570,3000]

let epsValue = 0.0218
let clusterList = [
    { points: ringPts, color: '#d53e4f' },
    { points: burgundyPts, color: '#9e0142' },
    { points: orangePts, color: '#f46d43' },
    { points: lightOrangePts, color: '#fdae61' },
    { points: yellowPts, color: '#fee08b' },
    { points: palePts, color: '#e6f598' },
    { points: greenPts, color: '#abdda4' },
    { points: tealPts, color: '#66c2a5' },
    { points: bluePts, color: '#3288bd' }
]
let scatterXTicks = [0, 0.2, 0.4, 0.6, 0.8, 1.0]
let scatterYTicks = [0.2, 0.4, 0.6, 0.8, 1.0]
let reachXTicks = [0, 2000, 4000, 6000, 8000, 10000]
let reachYTicks = [0.010, 0.015, 0.020, 0.025, 0.030]

function toPairs(flat){
    let out = []
    for(let i = 0; i < flat.length; i += 2) out.push([flat[i] / 1000, flat[i + 1] / 1000])
    return out
}

let svg = d3.select('.chart-holder')
    .append('svg')
        .attr('width', 1200)
        .attr('height', 600)
        .style('display', 'block')

let top_ = 40, bottom_ = 562
let left = { x0: 45, x1: 577 }
let right = { x0: 637, x1: 1170 }

let xScatter = d3.scaleLinear().domain([-0.0464, 1.0505]).range([left.x0, left.x1])
let yScatter = d3.scaleLinear().domain([0.0021, 1.101]).range([bottom_, top_])
let xReach = d3.scaleLinear().domain([-489, 10087]).range([right.x0, right.x1])
let yReach = d3.scaleLinear().domain([0.00661, 0.03108]).range([bottom_, top_])

// left panel
let scatter = svg.append('g').attr('class', 'scatter')

scatter.selectAll('circle.noise')
    .data(toPairs(noisePts))
    .enter()
    .append('circle').attr('class', 'noise')
        .attr('cx', d => xScatter(d[0]))
        .attr('cy', d => yScatter(d[1]))
        .attr('r', 4.2)
        .attr('fill', '#000').attr('fill-opacity', 0.45)
        .attr('stroke', '#000').attr('stroke-opacity', 0.45)

clusterList.forEach(function(cluster, i){
    scatter.selectAll('circle.c' + i)
        .data(toPairs(cluster.points))
        .enter()
        .append('circle').attr('class', 'c' + i)
            .attr('cx', d => xScatter(d[0]))
            .attr('cy', d => yScatter(d[1]))
            .attr('r', 4.1)
            .attr('fill', cluster.color).attr('fill-opacity', 0.8)
            .attr('stroke', '#000').attr('stroke-opacity', 0.85)
            .attr('stroke-width', 1.1)
})

drawAxes(xScatter, yScatter, scatterXTicks, scatterYTicks, '.1f', left)

svg.append('rect')
    .attr('x', 456.5).attr('y', 522.5)
    .attr('width', 108).attr('height', 28)
    .attr('fill', '#fff').attr('fill-opacity', 0.7)
    .attr('stroke', '#808080').attr('stroke-width', 1)
svg.append('text')
    .attr('x', 510.5).attr('y', 542)
    .attr('text-anchor', 'middle')
    .style('font-size', '19px')
    .text('Noise: 6.7%')

svg.append('text')
    .attr('x', 310).attr('y', 32)
    .attr('text-anchor', 'middle')
    .style('font-size', '18px')
    .style('letter-spacing', '1px')
    .text('t7_10k(聚类数=9)')

// right panel
let line = d3.line().x(d => xReach(d[0] * 1000)).y(d => yReach(d[1] / 100))

svg.append('path')
    .datum(toPairs(reachPts))
    .attr('d', line)
    .attr('fill', 'none')
    .attr('stroke', '#1f77b4')
    .attr('stroke-width', 0.8)

svg.append('line')
    .attr('x1', right.x0).attr('x2', right.x1)
    .attr('y1', yReach(epsValue)).attr('y2', yReach(epsValue))
    .attr('stroke', '#e8913a')
    .attr('stroke-width', 2)

drawAxes(xReach, yReach, reachXTicks, reachYTicks, null, right)

svg.append('defs').append('marker')
    .attr('id', 'arrow-head')
    .attr('viewBox', '0 0 10 10')
    .attr('refX', 10).attr('refY', 5)
    .attr('markerWidth', 12).attr('markerHeight', 10)
    .attr('markerUnits', 'userSpaceOnUse')
    .attr('orient', 'auto')
    .append('path').attr('d', 'M0,0L10,5L0,10z').attr('fill', '#000')

svg.append('line')
    .attr('x1', 677).attr('y1', 219)
    .attr('x2', xReach(-410)).attr('y2', yReach(epsValue) - 1)
    .attr('stroke', '#000').attr('stroke-width', 1)
    .attr('marker-end', 'url(#arrow-head)')

let epsLabel = svg.append('text')
    .attr('x', 644).attr('y', 212)
    .style('font-size', '18px')
    .style('letter-spacing', '0.6px')
epsLabel.append('tspan').style('font-style', 'italic').text('ε')
epsLabel.append('tspan').text('′<2.180e-02>')

let reachTitle = svg.append('text')
    .attr('x', 904).attr('y', 32)
    .attr('text-anchor', 'middle')
    .style('font-size', '18px')
    .style('letter-spacing', '1px')
reachTitle.append('tspan').text('可达距离次序图(')
reachTitle.append('tspan').style('font-style', 'italic').text('ε')
reachTitle.append('tspan').text('=3.000e-02,min_pts=15)')

function drawAxes(x, y, xTicks, yTicks, xFormat, box){
    let xAxis = d3.axisBottom(x).tickValues(xTicks).tickSize(4).tickPadding(4)
    if(xFormat) xAxis.tickFormat(d3.format(xFormat))
    else xAxis.tickFormat(d3.format('d'))
    let yAxis = d3.axisLeft(y).tickValues(yTicks).tickSize(4).tickPadding(3)
        .tickFormat(d3.format(xFormat ? '.1f' : '.3f'))

    let gx = svg.append('g')
        .attr('transform', 'translate(0,' + bottom_ + ')')
        .call(xAxis)
    let gy = svg.append('g')
        .attr('transform', 'translate(' + box.x0 + ',0)')
        .call(yAxis)
    gx.select('.domain').remove()
    gy.select('.domain').remove()
    gx.selectAll('text').style('font-size', '13px').style('letter-spacing', '0.8px').style('font-family', 'Lato')
    gy.selectAll('text').style('font-size', '13px').style('letter-spacing', '0.8px').style('font-family', 'Lato')

    svg.append('rect')
        .attr('x', box.x0 + 0.5).attr('y', top_ + 0.5)
        .attr('width', box.x1 - box.x0).attr('height', bottom_ - top_)
        .attr('fill', 'none')
        .attr('stroke', '#000').attr('stroke-width', 1)
}
</script>
</body>
</html>
